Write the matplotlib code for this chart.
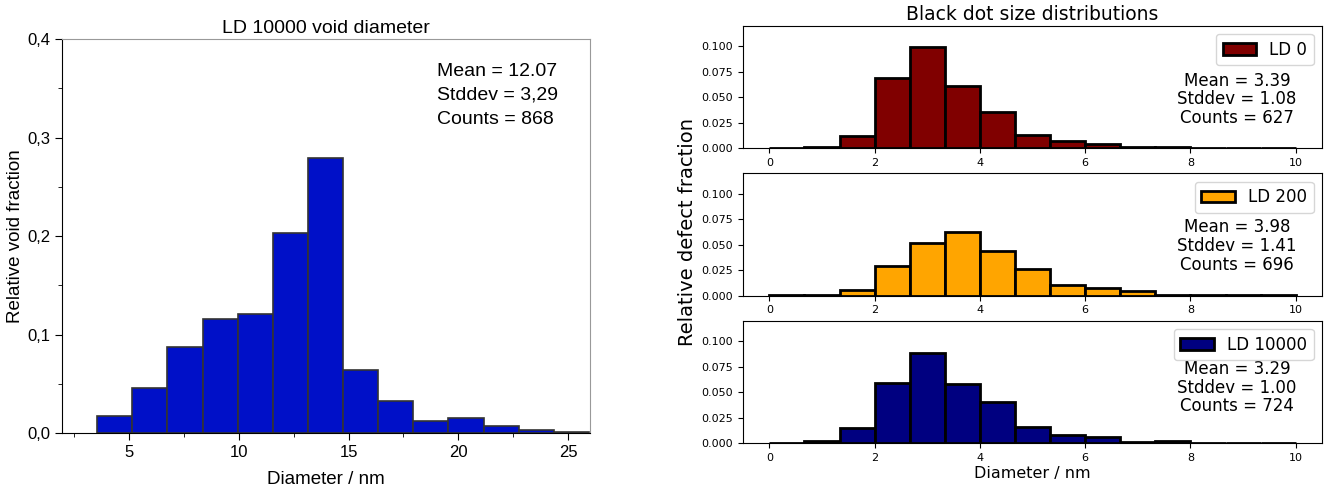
import numpy as np
import matplotlib
matplotlib.use("Agg")
import matplotlib.pyplot as plt
from matplotlib.ticker import MultipleLocator, FuncFormatter

# void diameter histogram (left)
void_edges = [3.55, 5.15, 6.75, 8.35, 9.95, 11.55, 13.15, 14.75,
              16.35, 17.95, 19.55, 21.15, 22.75, 24.35, 25.95]
void_frac = [0.0173, 0.0457, 0.087, 0.1157, 0.121, 0.2027, 0.2788,
             0.0636, 0.0325, 0.0125, 0.0152, 0.0071, 0.0027, 0.0014]

# black dot histograms (right), 15 bins between 0 and 10 nm
dot_edges = np.linspace(0, 10, 16)
ld0 = [0.0005, 0.001, 0.012, 0.069, 0.099, 0.061, 0.036, 0.013,
       0.007, 0.004, 0.001, 0.001, 0.0003, 0.0003, 0.0003]
ld200 = [0.0003, 0.0003, 0.006, 0.029, 0.052, 0.062, 0.044, 0.026,
         0.010, 0.008, 0.005, 0.001, 0.001, 0.0003, 0.0003]
ld10000 = [0.0003, 0.002, 0.015, 0.059, 0.088, 0.058, 0.040, 0.016,
           0.008, 0.006, 0.001, 0.002, 0.0003, 0.0003, 0.0003]

labels = ["LD 0", "LD 200", "LD 10000"]
colors = ["#800000", "#ffa500", "#000080"]
stats = [("3.39", "1.08", "627"), ("3.98", "1.41", "696"), ("3.29", "1.00", "724")]
stat_y = [0.40, 0.405, 0.455]

fig = plt.figure(figsize=(13.25, 4.86), dpi=100)

# ---- left panel (Origin style) ----
axl = fig.add_axes([0.0468, 0.109, 0.3985, 0.8107])
widths = np.diff(void_edges)
axl.bar(void_edges[:-1], void_frac, width=widths, align="edge",
        color="#0010c8", edgecolor="#333333", linewidth=1.2)
axl.set_xlim(1.95, 26)
axl.set_ylim(0, 0.4)
axl.xaxis.set_major_locator(MultipleLocator(5))
axl.xaxis.set_minor_locator(MultipleLocator(2.5))
axl.yaxis.set_major_locator(MultipleLocator(0.1))
axl.yaxis.set_minor_locator(MultipleLocator(0.05))
axl.yaxis.set_major_formatter(FuncFormatter(lambda v, p: f"{v:.1f}".replace(".", ",")))
axl.tick_params(which="major", length=5, labelsize=12, direction="out")
axl.tick_params(which="minor", length=3, direction="out")
for lab in axl.get_xticklabels() + axl.get_yticklabels():
    lab.set_fontfamily("Liberation Sans")
for s in ["top", "right"]:
    axl.spines[s].set_color("#999999")
    axl.spines[s].set_linewidth(0.8)
axl.set_title("LD 10000 void diameter", fontsize=14, family="Liberation Sans", pad=4)
axl.set_xlabel("Diameter / nm", fontsize=13.5, family="Liberation Sans", labelpad=8)
axl.set_ylabel("Relative void fraction", fontsize=13.5, family="Liberation Sans", labelpad=2)
axl.text(0.71, 0.94, "Mean = 12.07\nStddev = 3,29\nCounts = 868",
         transform=axl.transAxes, fontsize=14, family="Liberation Sans",
         va="top", ha="left", linespacing=1.55)

# ---- right panels ----
bottoms = [0.6949, 0.3916, 0.0879]
axes_r = []
for i, vals in enumerate([ld0, ld200, ld10000]):
    ax = fig.add_axes([0.5608, bottoms[i], 0.437, 0.252])
    ax.bar(dot_edges[:-1], vals, width=np.diff(dot_edges), align="edge",
           color=colors[i], edgecolor="black", linewidth=2, label=labels[i])
    ax.set_xlim(-0.5, 10.5)
    ax.set_ylim(0, 0.12)
    ax.set_yticks([0, 0.025, 0.05, 0.075, 0.1])
    ax.set_xticks([0, 2, 4, 6, 8, 10])
    ax.tick_params(labelsize=8)
    ax.legend(loc="upper right", fontsize=12)
    m, s, c = stats[i]
    ax.text(0.853, stat_y[i], f"Mean = {m}\nStddev = {s}\nCounts = {c}",
            transform=ax.transAxes, fontsize=12, ha="center", va="center",
            linespacing=1.05)
    axes_r.append(ax)

axes_r[0].set_title("Black dot size distributions", fontsize=13.5, pad=4)
axes_r[2].set_xlabel("Diameter / nm", fontsize=11.5, labelpad=2)
fig.text(0.519, 0.523, "Relative defect fraction", rotation=90,
         fontsize=14, ha="center", va="center")

fig.savefig("out.png", dpi=100)
